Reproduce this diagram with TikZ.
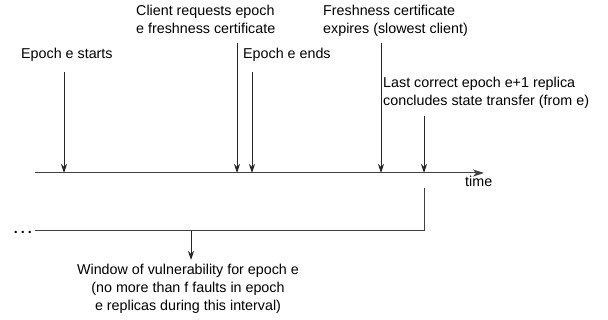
\documentclass[tikz,border=0pt]{standalone}
\usepackage{fontspec}
\setmainfont{Liberation Sans}
\usetikzlibrary{arrows.meta}
\begin{document}
\begin{tikzpicture}[x=1pt,y=-1pt,
  lbl/.style={inner sep=0pt, align=left, anchor=north west, font=\fontsize{14.3}{18}\selectfont},
  evarrow/.style={draw=black!85, line width=1pt, -{Stealth[length=9pt,width=6pt,inset=3pt]}},
  plainline/.style={draw=black!75, line width=1pt},
  timearrow/.style={draw=black!75, line width=1pt, -{Stealth[length=11pt,width=7pt,inset=3pt]}}]
\useasboundingbox (0,0) rectangle (608,320);
% timeline
\coordinate (t0) at (35,173);
\coordinate (t1) at (484,173);
\draw[timearrow] (t0) -- (t1);
\node[inner sep=0pt, anchor=base west, font=\fontsize{14.3}{18}\selectfont] (time) at (465,187) {time};
% event labels
\node[lbl] (start) at (21,48) {Epoch e starts};
\node[lbl] (req) at (136,5) {Client requests epoch\\e freshness certificate};
\node[lbl] (ends) at (243,48) {Epoch e ends};
\node[lbl] (fresh) at (323,5) {Freshness certificate\\expires (slowest client)};
\node[lbl] (last) at (383,77) {Last correct epoch e+1 replica\\concludes state transfer (from e)};
% event arrow coordinates
\coordinate (a1s) at (64,72);   \coordinate (a1e) at (64,173);
\coordinate (a2s) at (237,43);  \coordinate (a2e) at (237,173);
\coordinate (a3s) at (252,72);  \coordinate (a3e) at (252,173);
\coordinate (a4s) at (381,43);  \coordinate (a4e) at (381,173);
\coordinate (a5s) at (424,116); \coordinate (a5e) at (424,173);
\draw[evarrow] (a1s) -- (a1e);
\draw[evarrow] (a2s) -- (a2e);
\draw[evarrow] (a3s) -- (a3e);
\draw[evarrow] (a4s) -- (a4e);
\draw[evarrow] (a5s) -- (a5e);
% window bracket
\coordinate (w0) at (424,188);
\coordinate (w1) at (424,231);
\coordinate (w2) at (35,231);
\draw[plainline] (w0) -- (w1) -- (w2);
\node[inner sep=0pt, anchor=base east, font=\fontsize{14.3}{18}\selectfont\bfseries] (dots) at (32,234) {.\hspace{3pt}.\hspace{3pt}.};
\coordinate (wm) at (191,231);
\coordinate (wa) at (191,260);
\node[inner sep=0pt, align=center, anchor=north, font=\fontsize{14.3}{18}\selectfont] (win) at (188,264) {Window of vulnerability for epoch e\\(no more than f faults in epoch\\e replicas during this interval)};
\draw[evarrow] (wm) -- (wa);
\end{tikzpicture}
\end{document}
